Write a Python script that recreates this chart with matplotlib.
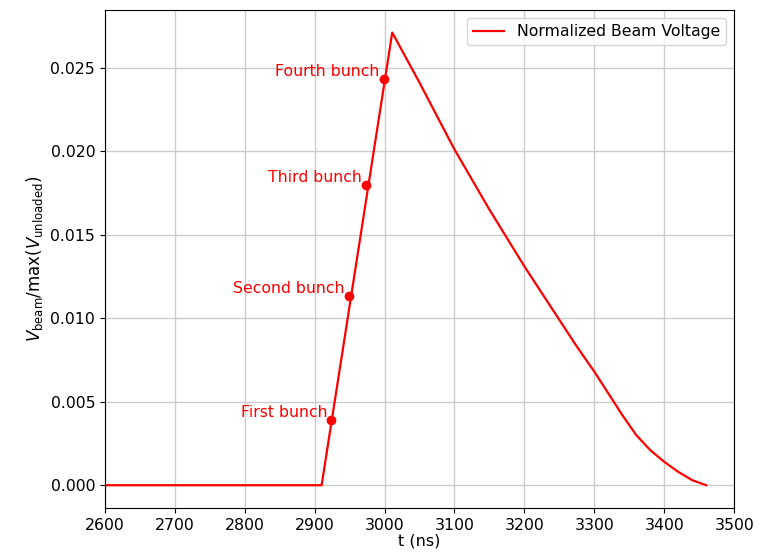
import numpy as np
import matplotlib
matplotlib.use('Agg')
import matplotlib.pyplot as plt

plt.rcParams['font.size'] = 11.3

# Beam voltage trace (t in ns, normalized voltage)
t_ns = [2550, 2910, 3011, 3050, 3100, 3150, 3200, 3250, 3275, 3300, 3320,
        3340, 3360, 3380, 3400, 3420, 3440, 3460]
v_norm = [0.0, 0.0, 0.0271, 0.0241, 0.0201, 0.0165, 0.0131, 0.0099, 0.0083,
          0.0068, 0.0055, 0.0042, 0.0030, 0.0021, 0.0014, 0.0008, 0.0003,
          0.0]

# Bunch arrival points
bunch_t = [2924, 2949, 2974, 2999]
bunch_v = [0.0039, 0.0113, 0.0180, 0.0243]
bunch_names = ['First bunch', 'Second bunch', 'Third bunch', 'Fourth bunch']

fig = plt.figure(figsize=(7.6, 5.52), dpi=100)
ax = fig.add_axes([0.138, 0.080, 0.828, 0.902])

ax.plot(t_ns, v_norm, color='red', lw=1.6, label='Normalized Beam Voltage')
ax.plot(bunch_t, bunch_v, 'o', color='red', ms=6)
for bt, bv, name in zip(bunch_t, bunch_v, bunch_names):
    ax.annotate(name, (bt, bv), xytext=(-3, 0), textcoords='offset points',
                ha='right', va='bottom', color='red', fontsize=11.3)

ax.set_xlim(2600, 3500)
ax.set_xticks(np.arange(2600, 3501, 100))
ax.set_xlabel('t (ns)', fontsize=11.5, labelpad=1)
ax.set_ylabel(r'$V_{\rm beam}/\max(V_{\rm unloaded})$', fontsize=12)
ax.grid(True, color='#cccccc', lw=1)
ax.legend(loc='upper right', fontsize=11.3)

fig.savefig('out.png', dpi=100)
